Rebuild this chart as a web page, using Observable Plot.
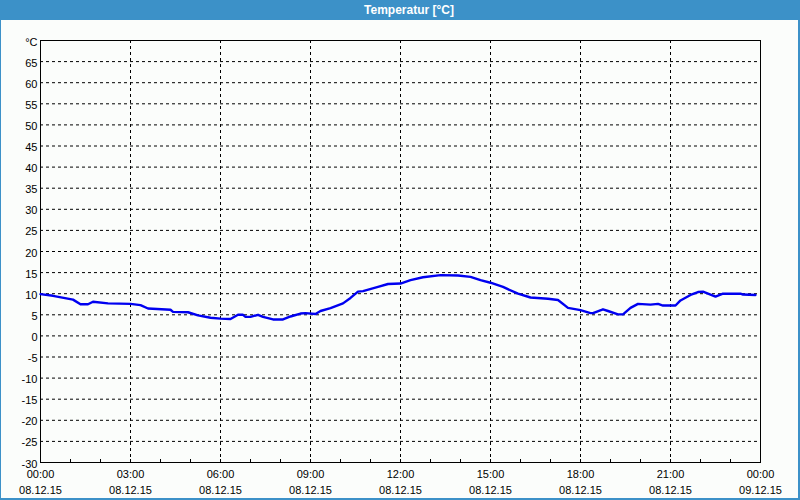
<!DOCTYPE html>
<html><head><meta charset="utf-8">
<script src="https://cdn.jsdelivr.net/npm/d3@7"></script>
<script src="https://cdn.jsdelivr.net/npm/@observablehq/plot@0.6"></script>
<style>
html,body{margin:0;padding:0;background:#fbfdfb;}
#wrap{position:relative;width:800px;height:500px;background:#fbfdfb;font-family:"Liberation Sans",Arial,sans-serif;overflow:hidden;}
#title{position:absolute;left:0;top:0;width:800px;height:20px;box-sizing:border-box;padding-left:18px;background:#3c91c8;color:#fff;font-weight:bold;font-size:12px;line-height:20px;text-align:center;}
#chart{position:absolute;left:0;top:20px;}
#border{position:absolute;left:0;top:0;width:800px;height:500px;box-sizing:border-box;border-left:1px solid #3c91c8;border-right:2px solid #3c91c8;border-bottom:2px solid #3c91c8;pointer-events:none;}
</style>
</head><body>
<div id="wrap">
  <div id="title">Temperatur [°C]</div>
  <div id="chart"></div>
  <div id="border"></div>
</div>
<script>
const times = ["00:00","00:25","01:05","01:20","01:35","01:45","02:15","03:00","03:20","03:35","04:20","04:25","04:55","05:15","05:40","06:00","06:20","06:35","06:45","06:50","07:00","07:15","07:25","07:45","08:05","08:20","08:40","08:50","09:10","09:20","09:40","10:05","10:20","10:35","10:45","11:15","11:35","12:00","12:20","12:45","13:20","13:55","14:20","14:40","15:00","15:25","15:55","16:20","16:55","17:15","17:35","18:00","18:20","18:25","18:45","18:55","19:15","19:25","19:40","19:55","20:20","20:35","20:45","21:10","21:20","21:40","21:55","22:05","22:20","22:30","22:45","23:20","23:25","23:50"];
const temps = [9.9,9.5,8.6,7.5,7.5,8.1,7.7,7.6,7.3,6.5,6.2,5.7,5.6,4.85,4.3,4.1,4.0,5.0,5.0,4.5,4.5,5.0,4.5,3.9,3.9,4.6,5.3,5.4,5.2,5.9,6.6,7.7,9.0,10.5,10.6,11.6,12.3,12.4,13.2,13.9,14.4,14.3,14.0,13.2,12.6,11.6,10.0,9.1,8.8,8.5,6.65,6.1,5.4,5.4,6.3,5.9,5.1,5.1,6.65,7.6,7.4,7.6,7.2,7.2,8.4,9.7,10.4,10.5,9.8,9.3,10.0,10.0,9.8,9.7];

const xTickHours = [0,3,6,9,12,15,18,21,24];
const xTickTimes = ["00:00","03:00","06:00","09:00","12:00","15:00","18:00","21:00","00:00"];
const xTickDates = ["08.12.15","08.12.15","08.12.15","08.12.15","08.12.15","08.12.15","08.12.15","08.12.15","09.12.15"];
const xMinorHours = d3.range(1, 24);
const yTicks = [-30,-25,-20,-15,-10,-5,0,5,10,15,20,25,30,35,40,45,50,55,60,65,70];
const yUnit = "°C";

const toHours = s => { const [h, m] = s.split(":").map(Number); return h + m / 60; };
const data = times.map((t, i) => ({hour: toHours(t), temp: temps[i]}));

const chart = Plot.plot({
  width: 800, height: 480,
  marginTop: 20, marginBottom: 38, marginLeft: 40, marginRight: 40,
  style: {fontFamily: '"Liberation Sans", Arial, sans-serif', fontSize: "11px", color: "#000", background: "transparent"},
  x: {domain: [0, 24], label: null},
  y: {domain: [-30, 70], label: null},
  marks: [
    Plot.gridY(yTicks.filter(v => v > -30 && v < 70), {stroke: "#000", strokeOpacity: 1, strokeDasharray: "3,3"}),
    Plot.gridX(xTickHours.filter(v => v > 0 && v < 24), {stroke: "#000", strokeOpacity: 1, strokeDasharray: "3,3"}),
    Plot.frame({stroke: "#000"}),
    Plot.axisY(yTicks, {tickSize: 0, tickPadding: 3, dy: 1.5, label: null,
      tickFormat: v => v === 70 ? yUnit : String(v)}),
    Plot.axisX(xTickHours, {tickSize: 0, tickPadding: 5, label: null, lineHeight: 1.4,
      tickFormat: v => { const i = xTickHours.indexOf(v); return xTickTimes[i] + "\n" + xTickDates[i]; }}),
    Plot.axisX(xMinorHours, {tickSize: -3, label: null, tickFormat: () => ""}),
    Plot.line(data, {x: "hour", y: "temp", stroke: "#0000f0", strokeWidth: 2.4})
  ]
});
document.getElementById("chart").appendChild(chart);
</script>
</body></html>
